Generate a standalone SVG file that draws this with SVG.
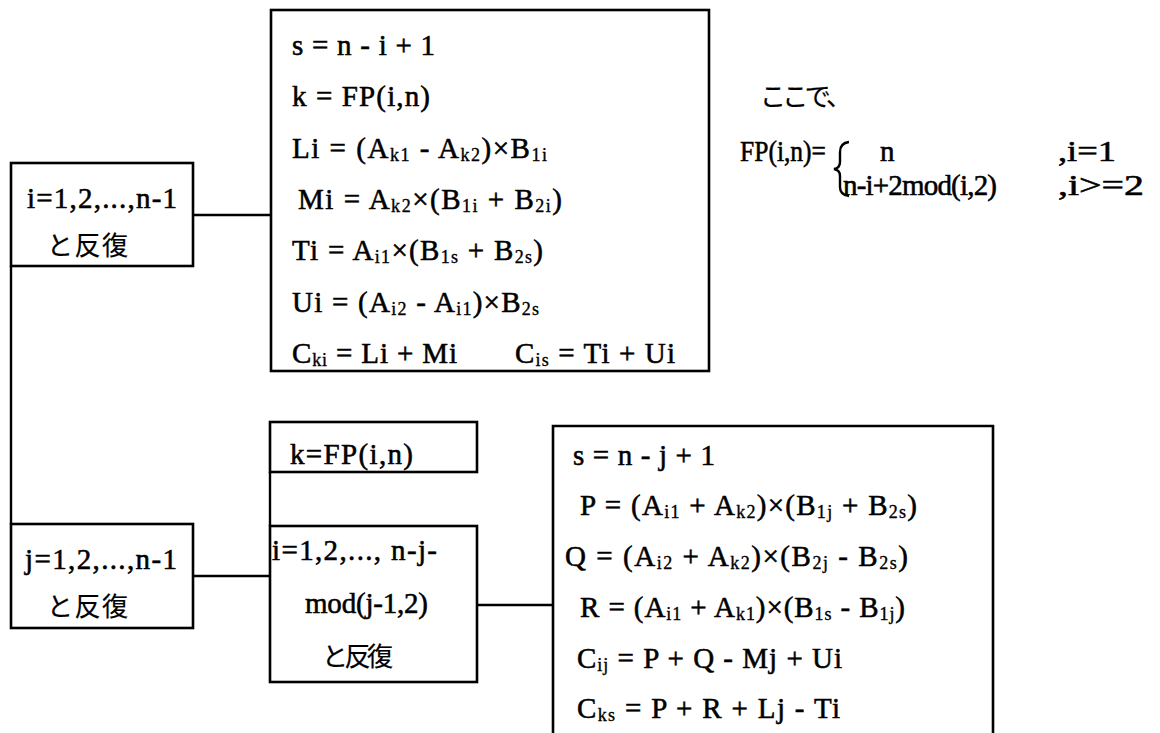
<svg xmlns="http://www.w3.org/2000/svg" width="1160" height="733" viewBox="0 0 1160 733">
<style>
.box{fill:none;stroke:#000;stroke-width:2.6}
.ln{fill:none;stroke:#000;stroke-width:2.4}
text{font-family:"Liberation Serif","Noto Sans CJK JP",serif;font-size:29px;fill:#000;stroke:#000;stroke-width:0.55}
.jp{font-family:"Noto Sans CJK JP","Liberation Serif",sans-serif;font-size:26px;stroke-width:0.2}
.fp{font-size:29px}
.s{font-size:18px;stroke-width:0.35}
</style>
<rect width="1160" height="733" fill="#fff"/>
<g id="connectors">
<line class="ln" x1="193" y1="215" x2="271" y2="215"/>
<line class="ln" x1="11" y1="266" x2="11" y2="524"/>
<line class="ln" x1="193" y1="576" x2="270" y2="576"/>
<line class="ln" x1="270" y1="472" x2="270" y2="526"/>
<line class="ln" x1="477" y1="605" x2="553" y2="605"/>
</g>
<g id="loop-i">
<rect class="box" x="11" y="163" width="182" height="103"/>
<text x="27" y="208" textLength="150">i=1,2,...,n-1</text>
<text class="jp" x="47" y="255" textLength="81">と反復</text>
</g>
<g id="calc-i">
<rect class="box" x="271" y="10" width="438" height="361"/>
<text x="292" y="55" textLength="143">s = n - i + 1</text>
<text x="292" y="106" textLength="138">k = FP(i,n)</text>
<text x="292" y="158" textLength="255">Li = (A<tspan class="s" dy="3">k1</tspan><tspan dy="-3"> - A</tspan><tspan class="s" dy="3">k2</tspan><tspan dy="-3">)×B</tspan><tspan class="s" dy="3">1i</tspan></text>
<text x="298" y="209" textLength="264">Mi = A<tspan class="s" dy="3">k2</tspan><tspan dy="-3">×(B</tspan><tspan class="s" dy="3">1i</tspan><tspan dy="-3"> + B</tspan><tspan class="s" dy="3">2i</tspan><tspan dy="-3">)</tspan></text>
<text x="292" y="260" textLength="251">Ti = A<tspan class="s" dy="3">i1</tspan><tspan dy="-3">×(B</tspan><tspan class="s" dy="3">1s</tspan><tspan dy="-3"> + B</tspan><tspan class="s" dy="3">2s</tspan><tspan dy="-3">)</tspan></text>
<text x="292" y="312" textLength="247">Ui = (A<tspan class="s" dy="3">i2</tspan><tspan dy="-3"> - A</tspan><tspan class="s" dy="3">i1</tspan><tspan dy="-3">)×B</tspan><tspan class="s" dy="3">2s</tspan></text>
<text x="292" y="363" textLength="165">C<tspan class="s" dy="3">ki</tspan><tspan dy="-3"> = Li + Mi</tspan></text>
<text x="515" y="363" textLength="160">C<tspan class="s" dy="3">is</tspan><tspan dy="-3"> = Ti + Ui</tspan></text>
</g>
<g id="fp-def">
<text class="jp" x="760" y="106" font-size="27" textLength="92">ここで、</text>
<text class="fp" x="740" y="161" textLength="86" lengthAdjust="spacingAndGlyphs">FP(i,n)=</text>
<path class="ln" stroke-width="2" d="M849,142 Q840,143 840,152 V162 Q840,168 834,169 Q840,170 840,176 V187 Q840,195 849,196"/>
<text class="fp" x="880" y="161">n</text>
<text class="fp" x="1058" y="161" textLength="58" lengthAdjust="spacingAndGlyphs">,i=1</text>
<text class="fp" x="843" y="195" textLength="154">n-i+2mod(i,2)</text>
<text class="fp" x="1058" y="195" textLength="86" lengthAdjust="spacingAndGlyphs">,i&gt;=2</text>
</g>
<g id="loop-j">
<rect class="box" x="11" y="524" width="182" height="104"/>
<text x="25" y="569" textLength="152">j=1,2,...,n-1</text>
<text class="jp" x="47" y="616" textLength="81">と反復</text>
</g>
<g id="k-fp">
<rect class="box" x="270" y="422" width="207" height="50"/>
<text x="290" y="464" textLength="123">k=FP(i,n)</text>
</g>
<g id="loop-i2">
<rect class="box" x="270" y="526" width="207" height="156"/>
<text x="272" y="560" textLength="165">i=1,2,..., n-j-</text>
<text x="305" y="613" textLength="123">mod(j-1,2)</text>
<text class="jp" x="322" y="666" textLength="71">と反復</text>
</g>
<g id="calc-j">
<path class="box" d="M553,733 V426 H993 V733"/>
<text x="573" y="465" textLength="142">s = n - j + 1</text>
<text x="580" y="515" textLength="337">P = (A<tspan class="s" dy="3">i1</tspan><tspan dy="-3"> + A</tspan><tspan class="s" dy="3">k2</tspan><tspan dy="-3">)×(B</tspan><tspan class="s" dy="3">1j</tspan><tspan dy="-3"> + B</tspan><tspan class="s" dy="3">2s</tspan><tspan dy="-3">)</tspan></text>
<text x="565" y="566" textLength="343">Q = (A<tspan class="s" dy="3">i2</tspan><tspan dy="-3"> + A</tspan><tspan class="s" dy="3">k2</tspan><tspan dy="-3">)×(B</tspan><tspan class="s" dy="3">2j</tspan><tspan dy="-3"> - B</tspan><tspan class="s" dy="3">2s</tspan><tspan dy="-3">)</tspan></text>
<text x="580" y="617" textLength="325">R = (A<tspan class="s" dy="3">i1</tspan><tspan dy="-3"> + A</tspan><tspan class="s" dy="3">k1</tspan><tspan dy="-3">)×(B</tspan><tspan class="s" dy="3">1s</tspan><tspan dy="-3"> - B</tspan><tspan class="s" dy="3">1j</tspan><tspan dy="-3">)</tspan></text>
<text x="577" y="668" textLength="265">C<tspan class="s" dy="3">ij</tspan><tspan dy="-3"> = P + Q - Mj + Ui</tspan></text>
<text x="577" y="718" textLength="263">C<tspan class="s" dy="3">ks</tspan><tspan dy="-3"> = P + R + Lj - Ti</tspan></text>
</g>
</svg>
